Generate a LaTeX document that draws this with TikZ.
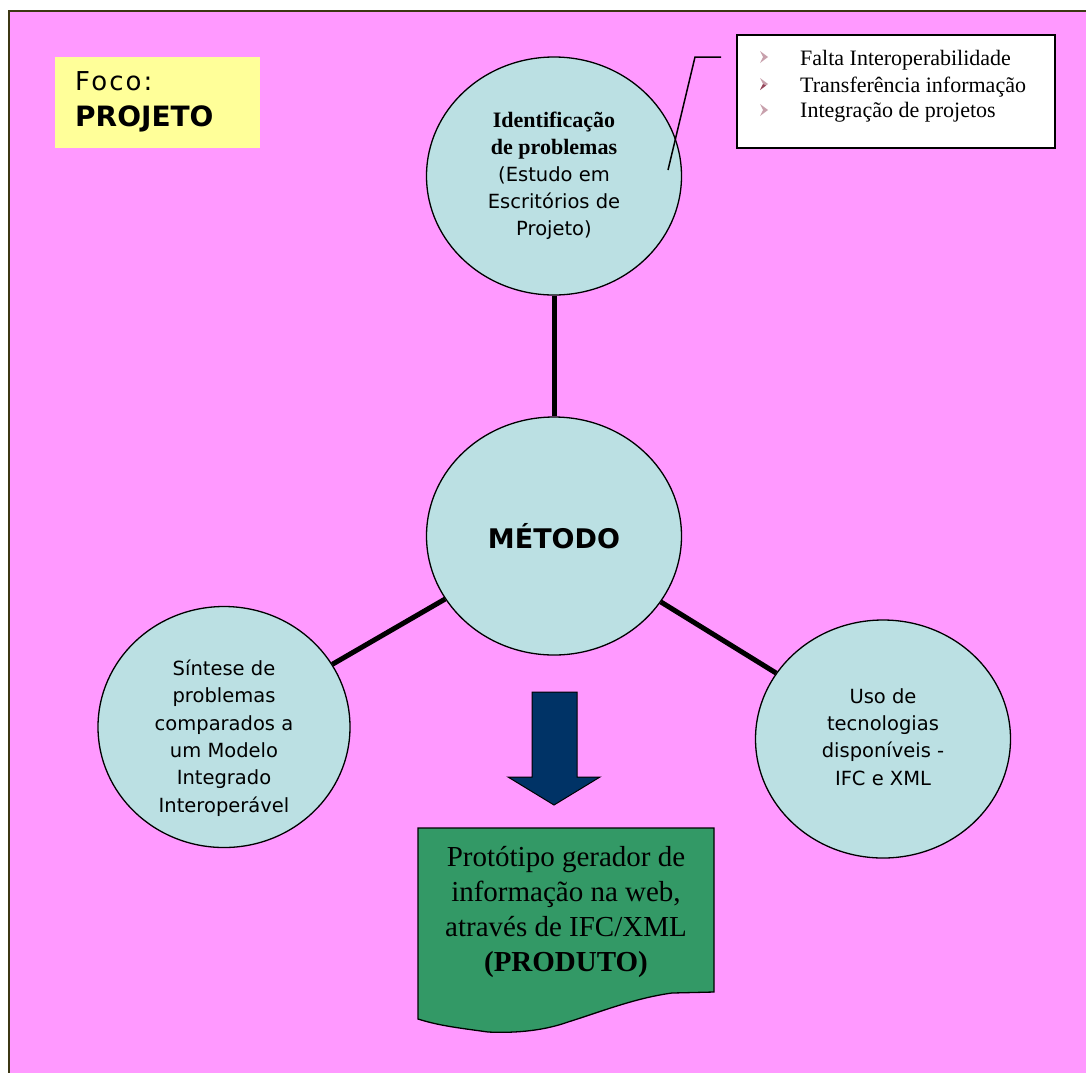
\documentclass[tikz,border=0pt]{standalone}
\usepackage{fontspec}
\setmainfont{Liberation Serif}
\newfontfamily\verd{DejaVu Sans}
\newfontfamily\verdsp{DejaVu Sans}[LetterSpace=8]
\usetikzlibrary{shapes.geometric}
\definecolor{pagepink}{RGB}{255,153,255}
\definecolor{framecol}{RGB}{60,55,20}
\definecolor{notecol}{RGB}{255,255,153}
\definecolor{bubblefill}{RGB}{187,224,227}
\definecolor{arrowblue}{RGB}{0,51,102}
\definecolor{docgreen}{RGB}{51,153,102}
\definecolor{bulletcol}{RGB}{200,160,172}
\definecolor{bulletdark}{RGB}{150,70,90}

\begin{document}
\begin{tikzpicture}[x=1pt,y=-1pt,
  bubble/.style={ellipse, draw=black, line width=1.3pt, fill=bubblefill,
    minimum width=255pt, minimum height=238pt, inner sep=0pt, align=center,
    font=\verd\fontsize{19.5}{27}\selectfont},
  bubbletext/.style={inner sep=0pt, align=center,
    font=\verd\fontsize{19.5}{27.4}\selectfont},
  link/.style={line width=5pt, draw=black},
  bullettext/.style={anchor=base west, inner sep=0pt,
    font=\rmfamily\fontsize{22}{26}\selectfont},
  bulletmark/.style={fill=bulletcol},
  pointer/.style={line width=1.5pt, draw=black}]

\useasboundingbox (0,0) rectangle (1086,1072);
\clip (0,0) rectangle (1086,1072);

% page background and frame
\fill[pagepink] (9,11) rectangle (1110,1110);
\draw[framecol, line width=2.5pt] (9,11) rectangle (1110,1110);

% focus label
\node[fill=notecol, minimum width=205pt, minimum height=91pt, inner sep=0pt,
  anchor=north west] (focobox) at (55,57) {};
\node[anchor=base west, inner sep=0pt] (foco) at (75,90)
  {\verdsp\fontsize{26}{30}\selectfont Foco:};
\node[anchor=base west, inner sep=0pt] (projeto) at (75,126)
  {\verd\bfseries\fontsize{28}{30}\selectfont PROJETO};

% circles
\node[bubble] (ident) at (554,176)
  {{\rmfamily\bfseries\fontsize{22}{26.5}\selectfont Identificação}\\
   {\rmfamily\bfseries\fontsize{22}{26.5}\selectfont de problemas}\\
   (Estudo em\\Escritórios de\\Projeto)};
\node[bubble] (metodo) at (554,536)
  {\bfseries\fontsize{27}{30}\selectfont MÉTODO};
\node[bubble, minimum width=252pt, minimum height=241pt] (sintese) at (224,727) {};
\node[bubbletext] (sintesetxt) at (224,738)
  {Síntese de\\problemas\\comparados a\\um Modelo\\Integrado\\Interoperável};
\node[bubble] (uso) at (883,739) {};
\node[bubbletext] (usotxt) at (883,737)
  {Uso de\\tecnologias\\disponíveis -\\IFC e XML};

% connectors
\draw[link] (ident) -- (metodo);
\draw[link] (metodo) -- (sintese);
\draw[link] (metodo) -- (uso);

% callout box with problems list
\node[draw=black, line width=1.5pt, fill=white, minimum width=318pt,
  minimum height=113pt, inner sep=0pt, anchor=north west] (callout) at (736,34) {};
\node[bullettext] (b1) at (800,65) {Falta Interoperabilidade};
\node[bullettext] (b2) at (800,92) {Transferência informação};
\node[bullettext] (b3) at (800,117) {Integração de projetos};
\foreach \yy in {57,84,110}{
  \fill[bulletmark] (760,\yy-6) -- (768,\yy) -- (760,\yy+6) -- (763,\yy) -- cycle;
}
\fill[bulletdark] (760,90) -- (766,85.5) -- (763,84) -- cycle;

\coordinate (p1) at (721,57);
\coordinate (p2) at (695,57);
\coordinate (p3) at (668,170);
\draw[pointer] (p1) -- (p2) -- (p3);

% down arrow
\filldraw[fill=arrowblue, draw=black, line width=1pt]
  (532,692) -- (577,692) -- (577,777) -- (600,777) -- (554,805)
  -- (508,777) -- (532,777) -- cycle;

% product document shape
\filldraw[fill=docgreen, draw=black, line width=1.3pt]
  (418,828) -- (714,828) -- (714,992) -- (672,993)
  .. controls (635,998) and (600,1012) .. (568,1022)
  .. controls (540,1032) and (510,1033) .. (488,1032)
  .. controls (460,1028) and (440,1026) .. (418,1019) -- cycle;
\node[align=center, inner sep=0pt,
  font=\rmfamily\fontsize{29}{35}\selectfont] (produto) at (566,912)
  {Protótipo gerador de\\informação na web,\\através de IFC/XML\\\textbf{(PRODUTO)}};

\end{tikzpicture}
\end{document}
